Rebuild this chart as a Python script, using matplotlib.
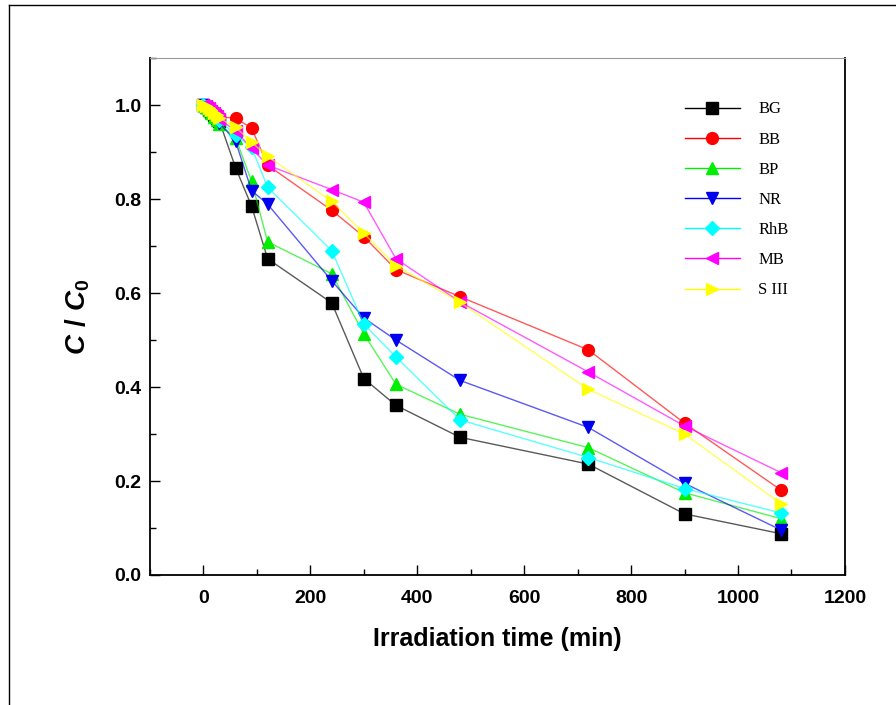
import matplotlib
matplotlib.use('Agg')
import matplotlib.pyplot as plt
from matplotlib.lines import Line2D
from matplotlib.ticker import MultipleLocator

plt.rcParams['mathtext.fontset'] = 'custom'
plt.rcParams['mathtext.it'] = 'Liberation Sans:italic:bold'
plt.rcParams['mathtext.rm'] = 'Liberation Sans:bold'

t = [0, 5, 10, 15, 20, 25, 30, 60, 90, 120, 240, 300, 360, 480, 720, 900, 1080]

bg = [1.0, 0.995, 0.99, 0.985, 0.978, 0.972, 0.965, 0.867, 0.785, 0.673, 0.579, 0.418, 0.361, 0.293, 0.236, 0.130, 0.088]
bb = [1.0, 0.998, 0.995, 0.99, 0.985, 0.98, 0.975, 0.972, 0.951, 0.872, 0.776, 0.720, 0.650, 0.592, 0.479, 0.323, 0.181]
bp = [1.0, 0.995, 0.99, 0.983, 0.975, 0.968, 0.96, 0.930, 0.838, 0.709, 0.641, 0.513, 0.406, 0.342, 0.271, 0.175, 0.120]
nr = [1.0, 0.996, 0.99, 0.984, 0.977, 0.97, 0.962, 0.923, 0.818, 0.789, 0.626, 0.547, 0.500, 0.414, 0.314, 0.195, 0.096]
rhb = [1.0, 0.996, 0.991, 0.986, 0.98, 0.974, 0.968, 0.936, 0.910, 0.825, 0.690, 0.534, 0.464, 0.330, 0.250, 0.184, 0.132]
mb = [1.0, 0.997, 0.993, 0.988, 0.982, 0.976, 0.97, 0.945, 0.908, 0.872, 0.820, 0.793, 0.673, 0.581, 0.432, 0.317, 0.218]
s3 = [1.0, 0.997, 0.993, 0.989, 0.984, 0.978, 0.972, 0.953, 0.921, 0.891, 0.795, 0.727, 0.658, 0.580, 0.395, 0.300, 0.152]

series = [
    ('BG', bg, 'black', 's'),
    ('BB', bb, 'red', 'o'),
    ('BP', bp, '#00ee00', '^'),
    ('NR', nr, '#0000ee', 'v'),
    ('RhB', rhb, 'cyan', 'D'),
    ('MB', mb, 'magenta', '<'),
    ('S III', s3, 'yellow', '>'),
]

fig = plt.figure(figsize=(8.96, 7.05), dpi=100)
# outer frame lines (top and left)
fig.add_artist(Line2D([0.010, 0.010], [0.0, 0.993], color='black', lw=1.0, transform=fig.transFigure))
fig.add_artist(Line2D([0.010, 1.0], [0.993, 0.993], color='black', lw=1.0, transform=fig.transFigure))

ax = fig.add_axes([0.1674, 0.1844, 0.7756, 0.7333])

for name, y, c, m in series:
    ms = 7.5 if m == 'D' else 8.5
    # thin lighter line, then solid markers on top
    ax.plot(t, y, color=c, lw=1.0, alpha=0.65)
    ax.plot(t, y, color=c, marker=m, ms=ms, lw=0, markeredgecolor=c)

handles = [Line2D([], [], color=c, marker=m, ms=(7.5 if m == 'D' else 8.5), lw=1.0,
                  markeredgecolor=c) for _, _, c, m in series]
labels = [n for n, _, _, _ in series]

ax.set_xlim(-100, 1200)
ax.set_ylim(0, 1.1)
ax.xaxis.set_major_locator(MultipleLocator(200))
ax.xaxis.set_minor_locator(MultipleLocator(100))
ax.yaxis.set_major_locator(MultipleLocator(0.2))
ax.yaxis.set_minor_locator(MultipleLocator(0.1))
ax.tick_params(which='both', direction='in', top=False, right=False)
ax.tick_params(which='major', length=7.5, width=1.0)
ax.tick_params(which='minor', length=4.5, width=1.0)
ax.tick_params(axis='x', which='major', pad=11)
ax.tick_params(axis='y', which='major', pad=6)
ax.spines['top'].set_color('#999999')
for s in ['left', 'bottom', 'right']:
    ax.spines[s].set_linewidth(1.3)

ax.set_xticks([0, 200, 400, 600, 800, 1000, 1200])
ax.set_xticklabels(['0', '200', '400', '600', '800', '1000', '1200'])
ax.set_yticks([0.0, 0.2, 0.4, 0.6, 0.8, 1.0])
ax.set_yticklabels(['0.0', '0.2', '0.4', '0.6', '0.8', '1.0'])
for lab in ax.get_xticklabels() + ax.get_yticklabels():
    lab.set_fontfamily('Liberation Sans')
    lab.set_fontweight('bold')
    lab.set_fontsize(14)

ax.set_xlabel('Irradiation time (min)', fontfamily='Liberation Sans',
              fontweight='bold', fontsize=18, labelpad=14)
ax.set_ylabel(r'$C\ /\ C_{0}$', fontsize=20, labelpad=16)

ax.legend(handles, labels, loc='upper left', bbox_to_anchor=(0.748, 0.945), frameon=False,
          prop={'family': 'Liberation Serif', 'size': 12},
          handlelength=3.3, labelspacing=0.85, handletextpad=1.1)

fig.savefig('out.png', dpi=100)
